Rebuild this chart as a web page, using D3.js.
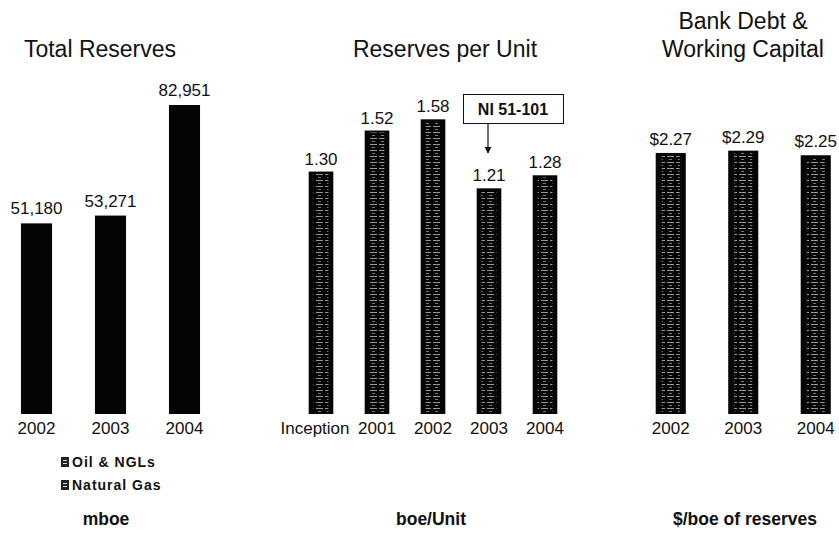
<!DOCTYPE html>
<html>
<head>
<meta charset="utf-8">
<script src="https://cdn.jsdelivr.net/npm/d3@7"></script>
<style>
  body { margin: 0; background: #fff; }
  svg { display: block; font-family: "Liberation Sans", Arial, sans-serif; }
</style>
</head>
<body>
<div class="chart"></div>
<script>
// panel data
var reserveYears = ["2002", "2003", "2004"];
var reserveValues = [51180, 53271, 82951];

var unitYears = ["Inception", "2001", "2002", "2003", "2004"];
var unitValues = [1.30, 1.52, 1.58, 1.21, 1.28];

var debtYears = ["2002", "2003", "2004"];
var debtValues = [2.27, 2.29, 2.25];

var legendItems = ["Oil & NGLs", "Natural Gas"];

var width = 839, height = 533, baseY = 414;

var svg = d3.select(".chart").append("svg")
    .attr("width", width)
    .attr("height", height);

// streaky texture for the scanned-looking bars
var defs = svg.append("defs");
var pat = defs.append("pattern")
    .attr("id", "streak")
    .attr("patternUnits", "userSpaceOnUse")
    .attr("width", 9).attr("height", 6);
pat.append("rect").attr("x", 1).attr("y", 0).attr("width", 7).attr("height", 1).attr("fill", "#e4e4e4");
pat.append("rect").attr("x", 3).attr("y", 3).attr("width", 3).attr("height", 1).attr("fill", "#bbb");

var panels = [
    { title: ["Total Reserves"], cats: reserveYears, vals: reserveValues,
      range: [-0.5, 221.5], pad: 0.58, perUnit: 0.003725, gap: 9,
      fmt: d3.format(","), unit: "mboe", unitX: 106, texture: false },
    { title: ["Reserves per Unit"], cats: unitYears, vals: unitValues,
      range: [293, 573], pad: 0.56, perUnit: 186.5, gap: 7,
      fmt: d3.format(".2f"), unit: "boe/Unit", unitX: 431, texture: true },
    { title: ["Bank Debt &", "Working Capital"], cats: debtYears, vals: debtValues,
      range: [634.5, 852], pad: 0.585, perUnit: 115, gap: 8,
      fmt: function(d) { return "$" + d3.format(".2f")(d); }, unit: "$/boe of reserves", unitX: 745, texture: true }
];

panels.forEach(function(p, pi) {
    var x = d3.scaleBand()
        .domain(p.cats)
        .range(p.range)
        .paddingInner(p.pad)
        .paddingOuter(p.pad / 2);

    var maxV = d3.max(p.vals);
    var y = d3.scaleLinear()
        .domain([0, maxV])
        .range([baseY, baseY - maxV * p.perUnit]);

    var g = svg.append("g");

    // title (one or two lines)
    var titleX = [100, 445, 743][pi];
    g.selectAll(".title")
        .data(p.title)
        .enter().append("text")
        .attr("x", titleX)
        .attr("y", function(d, i) { return 57 - (p.title.length - 1 - i) * 28; })
        .attr("text-anchor", "middle")
        .attr("font-size", "23px")
        .attr("fill", "#111")
        .text(function(d) { return d; });

    var data = p.cats.map(function(c, i) { return { cat: c, val: p.vals[i] }; });

    g.selectAll(".bar")
        .data(data)
        .enter().append("rect")
        .attr("x", function(d) { return x(d.cat); })
        .attr("y", function(d) { return y(d.val); })
        .attr("width", x.bandwidth())
        .attr("height", function(d) { return baseY - y(d.val); })
        .attr("fill", "#050505");

    if (p.texture) {
        g.selectAll(".streak")
            .data(data)
            .enter().append("rect")
            .attr("x", function(d) { return x(d.cat) + x.bandwidth() * 0.2; })
            .attr("y", function(d) { return y(d.val) + 2; })
            .attr("width", x.bandwidth() * 0.6)
            .attr("height", function(d) { return baseY - y(d.val) - 4; })
            .attr("fill", "url(#streak)")
            .attr("opacity", 0.65);
    }

    g.selectAll(".val")
        .data(data)
        .enter().append("text")
        .attr("x", function(d) { return x(d.cat) + x.bandwidth() / 2; })
        .attr("y", function(d) { return y(d.val) - p.gap; })
        .attr("text-anchor", "middle")
        .attr("font-size", "17px")
        .attr("fill", "#111")
        .text(function(d) { return p.fmt(d.val); });

    var xAxis = d3.axisBottom(x).tickSize(0).tickPadding(8);
    var ax = g.append("g")
        .attr("transform", "translate(0," + baseY + ")")
        .call(xAxis);
    ax.select(".domain").remove();
    ax.selectAll("text")
        .attr("font-size", "17px")
        .attr("font-family", "Liberation Sans, Arial, sans-serif")
        .attr("fill", "#111")
        .attr("dx", function(d) { return d === "Inception" ? -6 : 0; });

    g.append("text")
        .attr("x", p.unitX)
        .attr("y", 525)
        .attr("text-anchor", "middle")
        .attr("font-size", "17.5px")
        .attr("font-weight", "bold")
        .attr("fill", "#111")
        .text(p.unit);
});

// legend under the first panel
var leg = svg.append("g");
legendItems.forEach(function(name, i) {
    var ly = 467 + i * 23;
    leg.append("rect")
        .attr("x", 61).attr("y", ly - 10)
        .attr("width", 8).attr("height", 10)
        .attr("fill", "#222");
    leg.append("rect")
        .attr("x", 63).attr("y", ly - 7)
        .attr("width", 4).attr("height", 1)
        .attr("fill", "#ddd");
    leg.append("rect")
        .attr("x", 63).attr("y", ly - 4)
        .attr("width", 4).attr("height", 1)
        .attr("fill", "#ddd");
    leg.append("text")
        .attr("x", 72).attr("y", ly)
        .attr("font-size", "14px")
        .attr("font-weight", "bold")
        .attr("letter-spacing", "1px")
        .attr("fill", "#111")
        .text(name);
});

// NI 51-101 callout
svg.append("defs").append("marker")
    .attr("id", "arrow")
    .attr("viewBox", "0 0 10 10")
    .attr("refX", 9).attr("refY", 5)
    .attr("markerWidth", 6).attr("markerHeight", 6)
    .attr("orient", "auto")
    .append("path")
    .attr("d", "M0,0L10,5L0,10z")
    .attr("fill", "#111");

svg.append("rect")
    .attr("x", 463.5).attr("y", 94.5)
    .attr("width", 100).attr("height", 29)
    .attr("fill", "#fff")
    .attr("stroke", "#111")
    .attr("stroke-width", 1);

svg.append("text")
    .attr("x", 513).attr("y", 115)
    .attr("text-anchor", "middle")
    .attr("font-size", "16px")
    .attr("font-weight", "bold")
    .attr("fill", "#111")
    .text("NI 51-101");

svg.append("line")
    .attr("x1", 488).attr("y1", 124)
    .attr("x2", 488).attr("y2", 153)
    .attr("stroke", "#111")
    .attr("stroke-width", 1.2)
    .attr("marker-end", "url(#arrow)");
</script>
</body>
</html>
